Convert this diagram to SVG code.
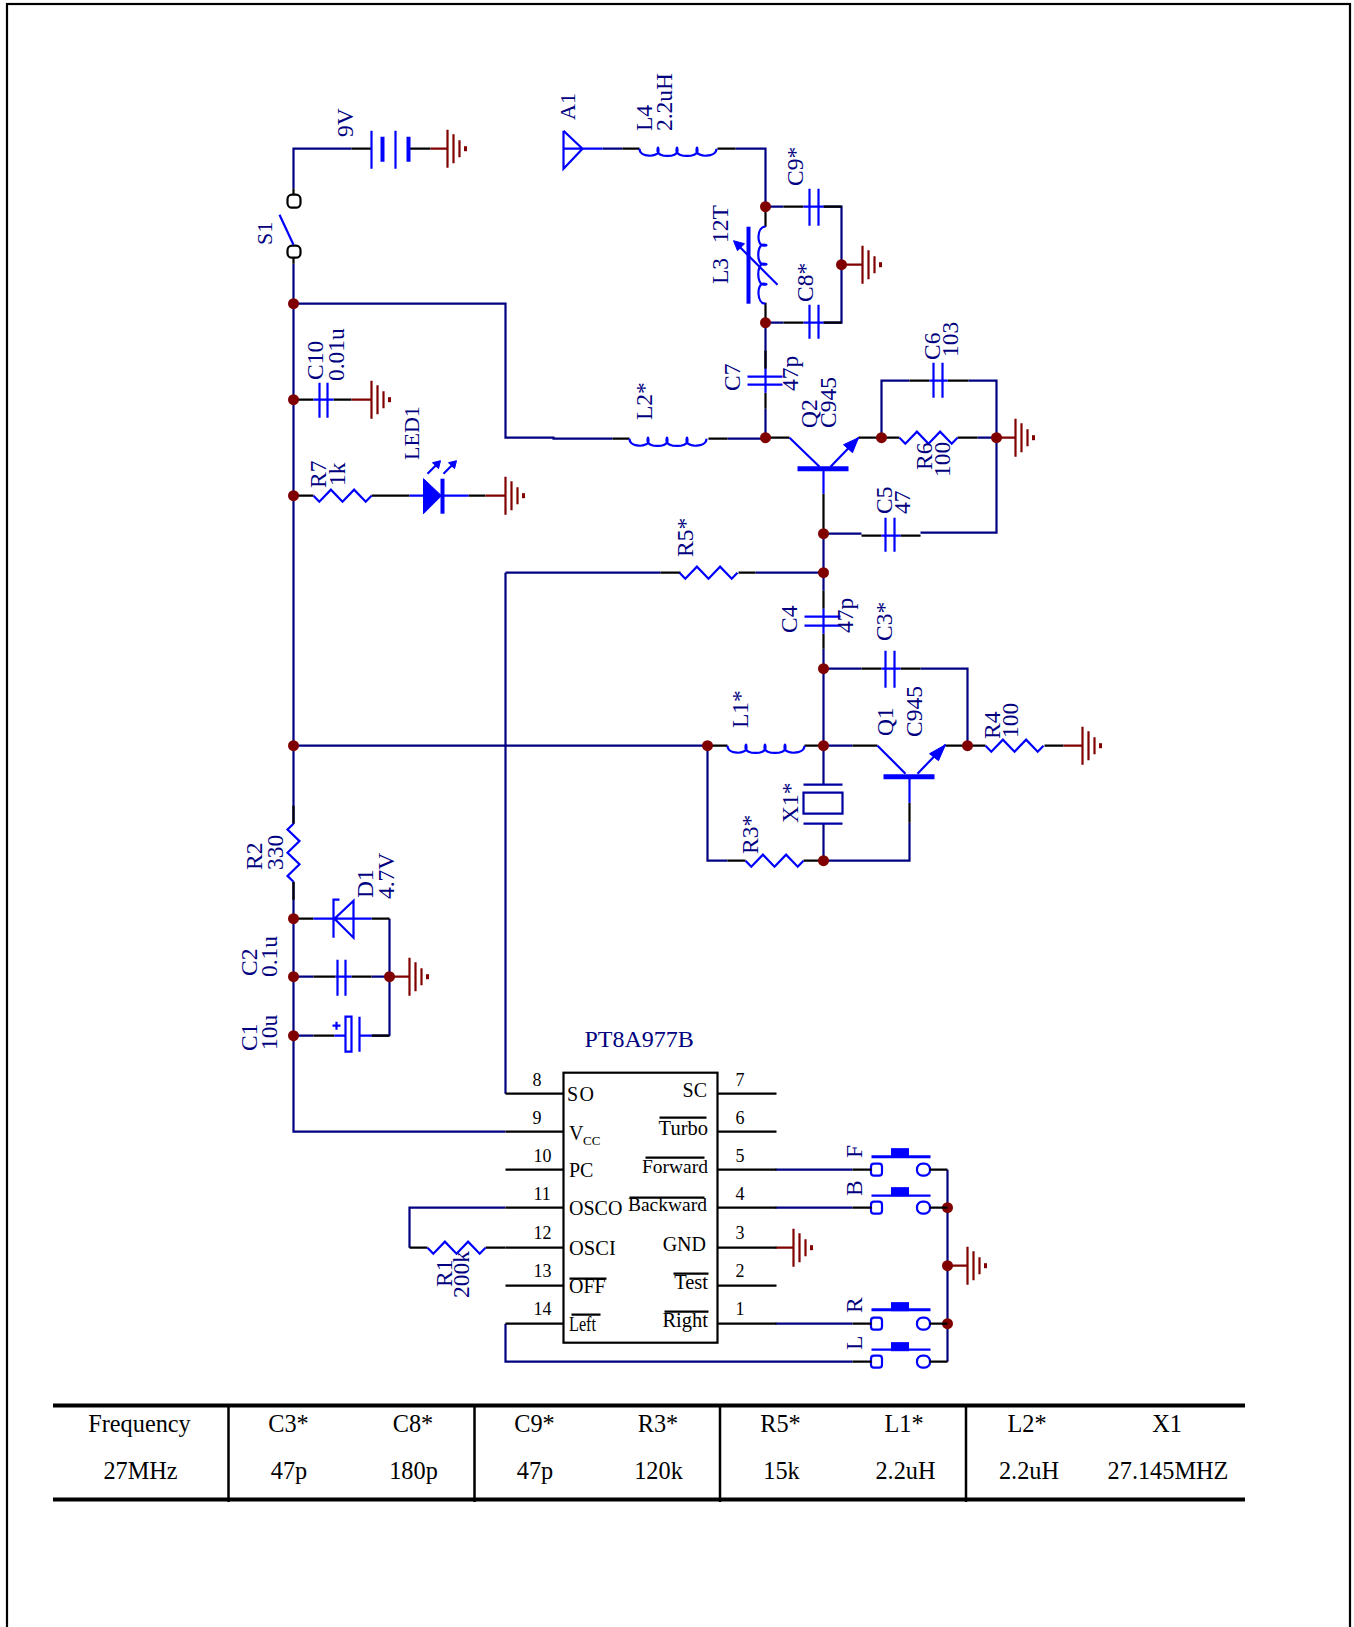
<svg xmlns="http://www.w3.org/2000/svg" xmlns:xlink="http://www.w3.org/1999/xlink" width="1354" height="1627" viewBox="0 0 1354 1627">
<style>
text{font-family:"Liberation Serif","Times New Roman",serif}
.l{font-size:23.5px;fill:#000080;translate:-1px -0.700px}
.n{font-size:18px;fill:#000;translate:-0.500px -0.700px}
.i{font-size:20px;fill:#000;translate:-0.500px -0.700px}
.e{text-anchor:end}
.t{font-size:24.300px;fill:#000;text-anchor:middle}
path,rect,circle,line{fill:none}
.w{stroke:#000080;stroke-width:2.200}
.k{stroke:#000;stroke-width:2.200}
.s{stroke:#0000ff;stroke-width:2.200}
.b{stroke:#0000ff;stroke-width:4}
.r{stroke:#800000;stroke-width:2.200}
.f{fill:#0000ff;stroke:#0000ff;stroke-width:1}
.j{fill:#800000;stroke:none}
.o{stroke:#000;stroke-width:2.200}
.c{stroke:#0000a0;stroke-width:2.200}
.tb{stroke:#000;stroke-width:4}
.tv{stroke:#000;stroke-width:2.500}
</style>
<defs>
<g id="gnd"><path class="r" d="M0-19V19M6-14.500V14.500M12-8.500V8.500"/><path class="r" d="M18-2.500V2.500" style="stroke-width:3"/></g>
<path id="res" class="s" d="M0 0L5.800 6L17.400-6L29 6L40.600-6L52.200 6L58 0"/>
<path id="ind" class="s" d="M0 0C0 9 19 9 19 2C19-2 18-2 18 2C18 9 38 9 38 2C38-2 37-2 37 2C37 9 58 9 58 2C58-2 57-2 57 2C57 9 77 9 77 0"/>
<g id="swb"><rect class="s" x="-5.500" y="-6" width="11" height="12" rx="3"/><rect class="s" x="40.500" y="-6" width="13" height="12" rx="5.500"/></g>
</defs>
<rect x="7" y="4" width="1343" height="1640" class="k"/>

<g id="schematic" transform="translate(0.500 0.700)">
<g id="connectors">
<path class="w" d="M293 188V148H351M293 263V823M293 881V1131H505M293 303H505V437H553V438H612M727 438H765V408M765 368V350M765 322V350M602 148H622M735 148H765V206M765 206H783M823 206H841V322H823M783 322H765M823 533V590M823 648V784M823 823V860M823 533H861M920 532H996V437M881 437V380H909M968 380H996V437M977 437H996M505 572H660M755 572H823M823 668H861M920 668H967V745M293 745H707M823 745H852M707 745V860H727M909 822V860H823M371 976H389M293 976H313M293 1035H313M389 918V1035M293 399H295M505 1207H409V1247M505 1093V572M505 1323V1361H852M775 1169H852M775 1207H852M775 1323H852M947 1169V1361M371 1035H389"/>
<path class="k" d="M293 188V194M293 257V263M351 148H371M408 148H430M295 399H313M333 399H351M293 495H313M371 495H409M468 495H485M622 148H639M717 148H735M765 206V226M765 302V322M783 206H803M823 206H841M783 322H803M823 322H841M765 350V368M765 392V408M612 438H629M708 438H727M765 437H789M858 437H881M881 437H899M957 437H977M823 493V533M861 535H881M900 535H920M909 380H929M947 380H968M823 590V608M823 633V648M861 668H881M900 668H920M660 572H680M738 572H755M852 745H877M945 745H985M1044 745H1063M707 745H727M804 745H823M727 860H745M803 860H823M909 802V822M293 805V823M293 881V899M293 918H313M371 918H389M313 976H335M351 976H371M313 1035H334M371 1035H389M409 1247H427M485 1247H505"/>
<path class="r" d="M351 399H371M430 148H447M485 495H505M841 264H862M996 437H1015M1063 745H1082M389 976H409M947 1265H967M775 1247H793"/>
</g>

<g id="grounds">
<use href="#gnd" x="447" y="148"/><use href="#gnd" x="371" y="399"/><use href="#gnd" x="505" y="495"/><use href="#gnd" x="862" y="264"/><use href="#gnd" x="1015" y="437"/><use href="#gnd" x="1082" y="745"/><use href="#gnd" x="409" y="976"/><use href="#gnd" x="793" y="1247"/><use href="#gnd" x="967" y="1265"/>
</g>

<g id="junctions">
<circle class="j" cx="293" cy="303" r="5.500"/><circle class="j" cx="293" cy="399" r="5.500"/><circle class="j" cx="293" cy="495" r="5.500"/><circle class="j" cx="293" cy="745" r="5.500"/><circle class="j" cx="293" cy="918" r="5.500"/><circle class="j" cx="293" cy="976" r="5.500"/><circle class="j" cx="293" cy="1035" r="5.500"/><circle class="j" cx="389" cy="976" r="5.500"/><circle class="j" cx="765" cy="206" r="5.500"/><circle class="j" cx="765" cy="322" r="5.500"/><circle class="j" cx="765" cy="437" r="5.500"/><circle class="j" cx="841" cy="264" r="5.500"/><circle class="j" cx="881" cy="437" r="5.500"/><circle class="j" cx="996" cy="437" r="5.500"/><circle class="j" cx="823" cy="533" r="5.500"/><circle class="j" cx="823" cy="572" r="5.500"/><circle class="j" cx="823" cy="668" r="5.500"/><circle class="j" cx="707" cy="745" r="5.500"/><circle class="j" cx="823" cy="745" r="5.500"/><circle class="j" cx="967" cy="745" r="5.500"/><circle class="j" cx="823" cy="860" r="5.500"/><circle class="j" cx="947" cy="1207" r="5.500"/><circle class="j" cx="947" cy="1265" r="5.500"/><circle class="j" cx="947" cy="1323" r="5.500"/>
</g>

<g id="battery-9V"><path class="s" d="M371 130V168M395 130V168"/><path class="b" d="M382 136V161M408 136V161"/><text class="l" transform="translate(353 137) rotate(-90)">9V</text></g>

<g id="S1"><rect class="o" x="287" y="194" width="13" height="13" rx="4.500"/><rect class="o" x="287" y="245" width="13" height="12" rx="4.500"/><path class="s" d="M279 214L293 244"/><text class="l" style="font-size:22px" transform="translate(272 245) rotate(-90)">S1</text></g>

<g id="C10"><path class="s" d="M313 399H333M319 382V417M327 382V417"/><text class="l" transform="translate(323 380) rotate(-90)">C10</text><text class="l" transform="translate(344 381) rotate(-90)">0.01u</text></g>

<g id="R7"><use href="#res" x="313" y="495"/><text class="l" transform="translate(326 488) rotate(-90)">R7</text><text class="l" transform="translate(345 486) rotate(-90)">1k</text></g>

<g id="LED1"><path class="s" d="M409 495H468"/><path class="f" d="M423 478V513L441 495Z"/><path class="b" d="M442 478V513"/><path class="s" d="M427 473L438 462M443 473L454 462"/><path class="f" d="M440 460L432 462L438 468ZM456 460L448 462L454 468Z"/><text class="l" style="font-size:22px" transform="translate(419 460) rotate(-90)">LED1</text></g>

<g id="A1"><path class="s" d="M563 130V168L582 148L563 130M563 148H602"/><text class="l" style="font-size:22px" transform="translate(575 120) rotate(-90)">A1</text></g>

<g id="L4"><use href="#ind" x="639" y="148"/><text class="l" transform="translate(652 131) rotate(-90)">L4</text><text class="l" transform="translate(672 131) rotate(-90)">2.2uH</text></g>

<g id="C9"><path class="s" d="M803 206H823M809 188V225M818 188V225"/><text class="l" transform="translate(803 186) rotate(-90)">C9*</text></g>

<g id="L3"><use href="#ind" transform="translate(765 226) rotate(90)"/><path class="b" d="M748 226V303"/><path class="s" d="M777 284L737 244"/><path class="f" d="M733 240L744 243L737 250Z"/><text class="l" transform="translate(728 284) rotate(-90)">L3</text><text class="l" transform="translate(728 243) rotate(-90)">12T</text></g>

<g id="C8"><path class="s" d="M803 322H823M809 304V338M818 304V338"/><text class="l" transform="translate(813 302) rotate(-90)">C8*</text></g>

<g id="C7"><path class="s" d="M765 368V392M747 376H782M747 384H782"/><text class="l" transform="translate(740 391) rotate(-90)">C7</text><text class="l" transform="translate(798 391) rotate(-90)">47p</text></g>

<g id="L2"><use href="#ind" x="629" y="438"/><text class="l" transform="translate(652 420) rotate(-90)">L2*</text></g>

<g id="Q2"><path class="s" d="M789 437L819 466M830 466L858 437M823 468V493"/><path class="b" d="M797 468H848" style="stroke-width:5"/><path class="f" d="M858 437L843 444L852 452Z"/><text class="l" transform="translate(817 428) rotate(-90)">Q2</text><text class="l" transform="translate(836 428) rotate(-90)">C945</text></g>

<g id="C6"><path class="s" d="M929 380H947M933 362V397M942 362V397"/><text class="l" transform="translate(940 360) rotate(-90)">C6</text><text class="l" transform="translate(958 357) rotate(-90)">103</text></g>

<g id="R6"><use href="#res" x="899" y="437"/><text class="l" transform="translate(932 470) rotate(-90)">R6</text><text class="l" transform="translate(950 477) rotate(-90)">100</text></g>

<g id="C5"><path class="s" d="M881 535H900M885 517V551M894 517V551"/><text class="l" transform="translate(892 514) rotate(-90)">C5</text><text class="l" transform="translate(910 514) rotate(-90)">47</text></g>

<g id="R5"><use href="#res" x="679" y="572"/><text class="l" transform="translate(693 557) rotate(-90)">R5*</text></g>

<g id="C4"><path class="s" d="M823 608V633M804 616H840M804 625H840"/><text class="l" transform="translate(797 633) rotate(-90)">C4</text><text class="l" transform="translate(853 633) rotate(-90)">47p</text></g>

<g id="C3"><path class="s" d="M881 668H900M885 650V687M894 650V687"/><text class="l" transform="translate(892 641) rotate(-90)">C3*</text></g>

<g id="L1"><use href="#ind" x="727" y="745"/><text class="l" transform="translate(748 728) rotate(-90)">L1*</text></g>

<g id="Q1"><path class="s" d="M877 745L905 773M917 773L945 744M909 776V802"/><path class="b" d="M883 776H934" style="stroke-width:5"/><path class="f" d="M945 744L929 753L938 760Z"/><text class="l" transform="translate(893 736) rotate(-90)">Q1</text><text class="l" transform="translate(922 737) rotate(-90)">C945</text></g>

<g id="R4"><use href="#res" x="985" y="745"/><text class="l" transform="translate(1000 739) rotate(-90)">R4</text><text class="l" transform="translate(1018 738) rotate(-90)">100</text></g>

<g id="X1"><path class="c" d="M803 784H842M803 823H842M803 792H842V813H803Z"/><text class="l" transform="translate(798 823) rotate(-90)">X1*</text></g>

<g id="R3"><use href="#res" x="745" y="860"/><text class="l" transform="translate(758 854) rotate(-90)">R3*</text></g>

<g id="R2"><use href="#res" transform="translate(293 823) rotate(90)"/><text class="l" transform="translate(262 870) rotate(-90)">R2</text><text class="l" transform="translate(283 870) rotate(-90)">330</text></g>

<g id="D1"><path class="s" d="M313 918H371M353 900V937L334 918ZM339 899H333V937"/><text class="l" transform="translate(373 898) rotate(-90)">D1</text><text class="l" transform="translate(394 899) rotate(-90)">4.7V</text></g>

<g id="C2"><path class="s" d="M335 976H351M337 959V995M345 959V995"/><text class="l" transform="translate(257 976) rotate(-90)">C2</text><text class="l" transform="translate(277 977) rotate(-90)">0.1u</text></g>

<g id="C1"><path class="s" d="M334 1035H345M359 1035H371M345 1016H351V1051H345ZM359 1016V1051M332 1025H340M336 1021V1029"/><text class="l" transform="translate(257 1051) rotate(-90)">C1</text><text class="l" transform="translate(277 1050) rotate(-90)">10u</text></g>

<g id="R1"><use href="#res" x="427" y="1247"/><text class="l" transform="translate(452 1287) rotate(-90)">R1</text><text class="l" transform="translate(469 1298) rotate(-90)">200k</text></g>

<g id="PT8A977B">
<rect class="o" x="563" y="1072" width="154" height="270"/>
<path class="k" d="M505 1093H563M505 1131H563M505 1169H563M505 1207H563M505 1247H563M505 1285H563M505 1323H563M717 1093H776M717 1131H776M717 1169H776M717 1207H776M717 1247H776M717 1285H776M717 1323H776"/>
<path class="k" d="M569 1278H606M571 1314H600M659 1117H706M645 1157H704M629 1197H704M673 1273H708M664 1311H708"/>
<text class="l" style="font-size:24px" x="585" y="1047">PT8A977B</text>
<g class="n"><text class="n" x="533" y="1087">8</text><text class="n" x="533" y="1125">9</text><text class="n" x="534" y="1163">10</text><text class="n" x="534" y="1201">11</text><text class="n" x="534" y="1240">12</text><text class="n" x="534" y="1278">13</text><text class="n" x="534" y="1316">14</text>
<text class="n" x="736" y="1087">7</text><text class="n" x="736" y="1125">6</text><text class="n" x="736" y="1163">5</text><text class="n" x="736" y="1201">4</text><text class="n" x="736" y="1240">3</text><text class="n" x="736" y="1278">2</text><text class="n" x="736" y="1316">1</text></g>
<text class="i" x="567" y="1101" letter-spacing="1.500">SO</text>
<text class="i" x="569" y="1140">V</text><text class="n" style="font-size:13px" x="583" y="1145">CC</text>
<text class="i" x="569" y="1177">PC</text>
<text class="i" x="569" y="1215">OSCO</text>
<text class="i" x="569" y="1255" style="font-size:20.500px">OSCI</text>
<text class="i" x="569" y="1293">OFF</text>
<text class="i" x="569" y="1331" textLength="27" lengthAdjust="spacingAndGlyphs">Left</text>
<text class="i e" x="707" y="1097">SC</text>
<text class="i e" x="708" y="1135" style="font-size:20.500px">Turbo</text>
<text class="i e" x="708" y="1173" style="font-size:19.500px">Forward</text>
<text class="i e" x="707" y="1211" style="font-size:19.500px">Backward</text>
<text class="i e" x="706" y="1251">GND</text>
<text class="i e" x="708" y="1289" style="font-size:20.500px">Test</text>
<text class="i e" x="708" y="1327" style="font-size:20.500px">Right</text>
</g>

<g id="SW-F"><use href="#swb" x="876" y="1169"/><path class="s" d="M871 1156H930" style="stroke-width:3"/><rect class="f" x="891" y="1148" width="17" height="8"/><path class="k" d="M852 1169H871M929 1169H947"/><text class="l" transform="translate(862 1158) rotate(-90)">F</text></g>
<g id="SW-B"><use href="#swb" x="876" y="1207"/><path class="s" d="M871 1195H930"/><rect class="f" x="891" y="1187" width="17" height="8"/><path class="k" d="M852 1207H871M929 1207H947"/><text class="l" transform="translate(862 1196) rotate(-90)">B</text></g>
<g id="SW-R"><use href="#swb" x="876" y="1323"/><path class="s" d="M871 1309H930" style="stroke-width:3"/><rect class="f" x="891" y="1302" width="17" height="8"/><path class="k" d="M852 1323H871M929 1323H947"/><text class="l" transform="translate(862 1313) rotate(-90)">R</text></g>
<g id="SW-L"><use href="#swb" x="876" y="1361"/><path class="s" d="M871 1349H930"/><rect class="f" x="891" y="1342" width="17" height="8"/><path class="k" d="M852 1361H871M929 1361H947"/><text class="l" transform="translate(862 1350) rotate(-90)">L</text></g>
</g>

<g id="table">
<path class="tb" d="M53 1405.500H1245M53 1499.500H1245"/>
<path class="tv" d="M228.500 1404V1502M474.500 1404V1502M720 1404V1502M966 1404V1502"/>
<text class="t" x="139.500" y="1432">Frequency</text><text class="t" x="140.500" y="1479">27MHz</text>
<text class="t" x="288.500" y="1432">C3*</text><text class="t" x="289" y="1479">47p</text>
<text class="t" x="413" y="1432">C8*</text><text class="t" x="413.500" y="1479">180p</text>
<text class="t" x="534.500" y="1432">C9*</text><text class="t" x="535" y="1479">47p</text>
<text class="t" x="658" y="1432">R3*</text><text class="t" x="658.500" y="1479">120k</text>
<text class="t" x="780.500" y="1432">R5*</text><text class="t" x="781.500" y="1479">15k</text>
<text class="t" x="904" y="1432">L1*</text><text class="t" x="905.500" y="1479">2.2uH</text>
<text class="t" x="1027" y="1432">L2*</text><text class="t" x="1029" y="1479">2.2uH</text>
<text class="t" x="1167" y="1432">X1</text><text class="t" x="1168" y="1479">27.145MHZ</text>
</g>
</svg>
